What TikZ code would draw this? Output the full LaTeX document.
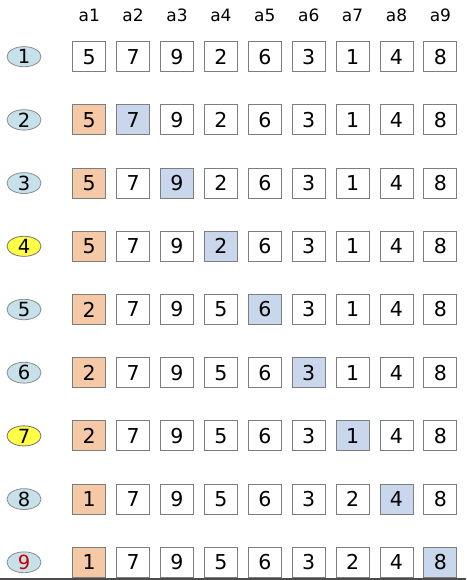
\documentclass[tikz,border=0pt]{standalone}
\usepackage{fontspec}
\setmainfont{DejaVu Sans}
\usepackage{tikz}
\usetikzlibrary{shapes.geometric}

\definecolor{cellorange}{RGB}{246,201,166}
\definecolor{cellblue}{RGB}{201,215,236}
\definecolor{steplight}{RGB}{199,225,234}
\definecolor{stepyellow}{RGB}{255,255,70}
\definecolor{cellline}{RGB}{125,125,125}

\begin{document}
\begin{tikzpicture}[x=1pt,y=-1pt]
\tikzstyle{cell}=[rectangle,draw=cellline,line width=0.9pt,minimum width=33pt,minimum height=30pt,inner sep=0pt,font=\fontsize{20.5}{20.5}\selectfont]
\tikzstyle{stepnum}=[ellipse,draw=black!45,fill=steplight,line width=0.8pt,minimum width=34pt,minimum height=18pt,inner sep=0pt,font=\fontsize{19.5}{19.5}\selectfont]
\tikzstyle{head}=[font=\fontsize{17}{17}\selectfont]
\useasboundingbox (0,0) rectangle (466,580);
% column headings
\foreach \c in {1,...,9}
  \node[head] at({89.2+43.9*(\c-1)}, 15.5) (h\c) {a\c};
% one row per step: values, column of the blue cell
\foreach \r/\vals/\b in {1/{5,7,9,2,6,3,1,4,8}/0,
                         2/{5,7,9,2,6,3,1,4,8}/2,
                         3/{5,7,9,2,6,3,1,4,8}/3,
                         4/{5,7,9,2,6,3,1,4,8}/4,
                         5/{2,7,9,5,6,3,1,4,8}/5,
                         6/{2,7,9,5,6,3,1,4,8}/6,
                         7/{2,7,9,5,6,3,1,4,8}/7,
                         8/{1,7,9,5,6,3,2,4,8}/8,
                         9/{1,7,9,5,6,3,2,4,8}/9}{
  \foreach \v [count=\c] in \vals {
    \def\fillc{white}
    \ifnum\c=\b \def\fillc{cellblue}\fi
    \ifnum\c=1 \ifnum\r>1 \def\fillc{cellorange}\fi\fi
    \node[cell,fill=\fillc] at({89.2+43.9*(\c-1)}, {56.7+63.2*(\r-1)}) (c\r-\c) {\v};
  }
}
% step markers
\foreach \r in {1,2,3,5,6,8}
  \node[stepnum] at(24, {56.7+63.2*(\r-1)}) (s\r) {\r};
\node[stepnum,fill=stepyellow,draw=black!55] at(24, 246.3) (s4) {4};
\node[stepnum,fill=stepyellow,draw=black!55] at(24, 435.9) (s7) {7};
\node[stepnum,text=red!80!black] at(24, 562.3) (s9) {9};
% rule at the bottom
\fill[black!70] (0,577.5) rectangle (466,580);
\end{tikzpicture}
\end{document}
